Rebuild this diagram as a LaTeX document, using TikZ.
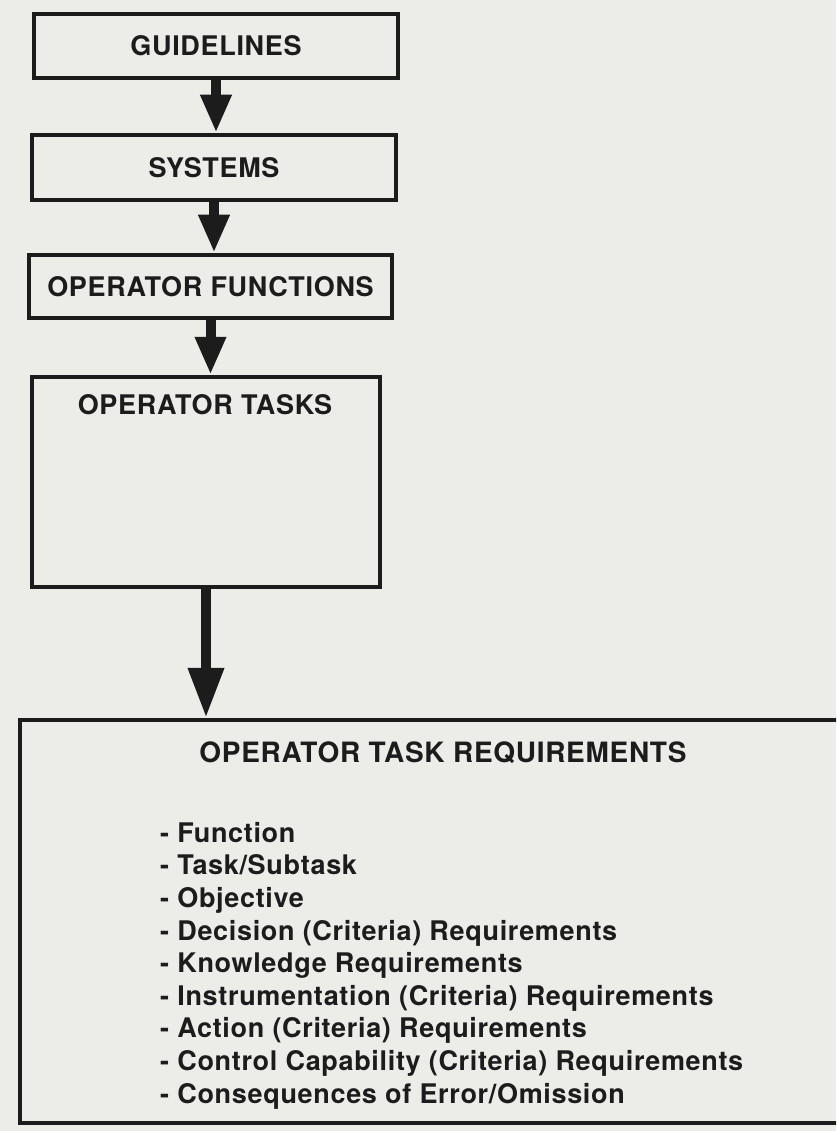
\documentclass[tikz,border=0pt]{standalone}
\usepackage{fontspec}
\setmainfont{TeX Gyre Heros}[LetterSpace=2.5]
\usetikzlibrary{arrows.meta}
\definecolor{paper}{RGB}{236,236,233}
\definecolor{ink}{RGB}{28,28,28}
\begin{document}
\begin{tikzpicture}[x=1pt,y=-1pt,
  box/.style={draw=ink,line width=4.5pt,inner sep=0pt,text=ink,font=\fontsize{27}{32}\selectfont\bfseries},
  label/.style={text=ink,inner sep=0pt,font=\fontsize{27}{32.6}\selectfont\bfseries},
  flow/.style={draw=ink,line width=10pt,-{Triangle[length=38pt,width=29pt]}},
  bigflow/.style={draw=ink,line width=10pt,-{Triangle[length=50pt,width=34pt]}}]
\useasboundingbox (0,0) rectangle (836,1131);
\clip (0,0) rectangle (836,1131);
\fill[paper] (0,0) rectangle (836,1131);
\node[box,minimum width=364pt,minimum height=64pt] (guide) at (216,46) {GUIDELINES};
\node[box,minimum width=364pt,minimum height=65pt] (sys) at (214,167.5) {SYSTEMS};
\node[box,minimum width=363pt,minimum height=63pt] (func) at (210.5,286.5) {OPERATOR FUNCTIONS};
\node[box,minimum width=348pt,minimum height=210pt] (tasks) at (206,482) {};
\node[label] (tasksname) at (205,405) {OPERATOR TASKS};
\node[box,minimum width=840pt,minimum height=403pt] (req) at (440,921.5) {};
\node[label,font=\fontsize{28}{32}\selectfont\bfseries] (reqname) at (443,753) {OPERATOR TASK REQUIREMENTS};
\node[label,anchor=north west,align=left] (reqlist) at (160,822) {- Function\\- Task/Subtask\\- Objective\\- Decision (Criteria) Requirements\\- Knowledge Requirements\\- Instrumentation (Criteria) Requirements\\- Action (Criteria) Requirements\\- Control Capability (Criteria) Requirements\\- Consequences of Error/Omission};
\draw[flow] (guide.south) -- (guide.south |- sys.north);
\draw[flow] (sys.south) -- (sys.south |- func.north);
\draw[flow] (func.south) -- (func.south |- tasks.north);
\draw[bigflow] (tasks.south) -- (tasks.south |- req.north);
\end{tikzpicture}
\end{document}
